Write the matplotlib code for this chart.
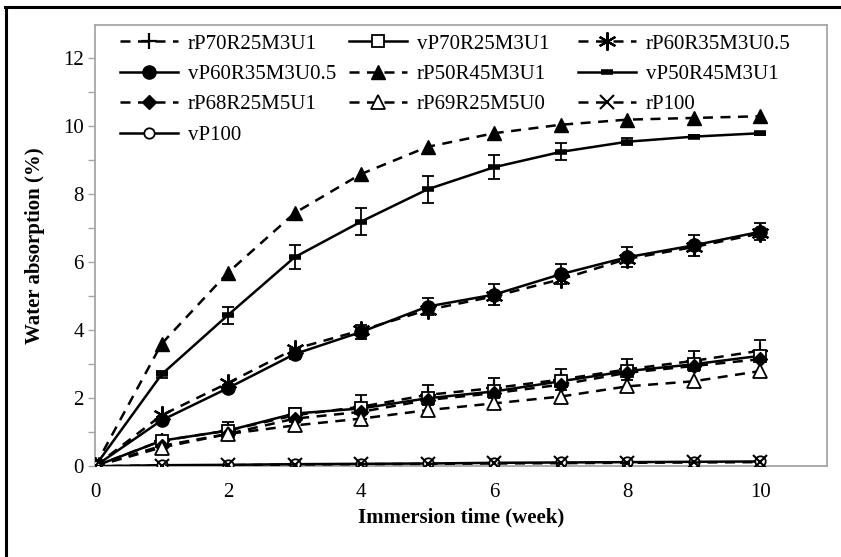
import matplotlib.pyplot as plt
from matplotlib.lines import Line2D
import numpy as np

plt.rcParams['font.family'] = ['Liberation Serif', 'DejaVu Serif']

weeks = [0, 1, 2, 3, 4, 5, 6, 7, 8, 9, 10]

rP70R25M3U1 = [0, 0.75, 1.05, 1.5, 1.75, 2.1, 2.3, 2.55, 2.85, 3.1, 3.4]
vP70R25M3U1 = [0, 0.75, 1.05, 1.55, 1.7, 2.0, 2.2, 2.5, 2.8, 3.0, 3.25]
rP60R35M3U05 = [0, 1.5, 2.45, 3.45, 4.0, 4.6, 5.0, 5.5, 6.1, 6.45, 6.85]
vP60R35M3U05 = [0, 1.35, 2.3, 3.3, 3.95, 4.7, 5.05, 5.65, 6.15, 6.5, 6.9]
rP50R45M3U1 = [0, 3.6, 5.7, 7.45, 8.6, 9.4, 9.8, 10.05, 10.2, 10.25, 10.3]
vP50R45M3U1 = [0, 2.7, 4.45, 6.15, 7.2, 8.15, 8.8, 9.25, 9.55, 9.7, 9.8]
rP68R25M5U1 = [0, 0.6, 0.95, 1.4, 1.6, 1.95, 2.15, 2.4, 2.75, 2.95, 3.15]
rP69R25M5U0 = [0, 0.55, 0.95, 1.2, 1.4, 1.65, 1.85, 2.05, 2.35, 2.5, 2.8]
rP100 = [0, 0.02, 0.03, 0.05, 0.06, 0.07, 0.08, 0.09, 0.1, 0.11, 0.12]
vP100 = [0, 0.03, 0.04, 0.06, 0.07, 0.08, 0.1, 0.11, 0.12, 0.13, 0.14]

err_vP50 = [0, 0.1, 0.25, 0.35, 0.4, 0.4, 0.35, 0.25, 0.1, 0.05, 0.05]
err_vP60 = [0, 0.1, 0.1, 0.15, 0.2, 0.25, 0.3, 0.3, 0.3, 0.3, 0.25]
err_rP70 = [0, 0.15, 0.25, 0.2, 0.35, 0.3, 0.3, 0.3, 0.3, 0.3, 0.3]

fig = plt.figure(figsize=(8.41, 5.57), dpi=100)
ax = fig.add_axes([0.113, 0.163, 0.870, 0.793])

lw = 1.8
dash = (0, (4, 3))
grey = '#a6a6a6'

series = [
    ('rP70R25M3U1', rP70R25M3U1, dash, dict(marker='+', ms=12, mew=1.6), err_rP70),
    ('vP70R25M3U1', vP70R25M3U1, '-', dict(marker='s', ms=8, mfc='white', mew=1.3), None),
    ('rP60R35M3U0.5', rP60R35M3U05, dash, dict(marker=(6, 2, 0), ms=13, mew=1.6), None),
    ('vP60R35M3U0.5', vP60R35M3U05, '-', dict(marker='o', ms=9.5), err_vP60),
    ('rP50R45M3U1', rP50R45M3U1, dash, dict(marker='^', ms=9.5), None),
    ('vP50R45M3U1', vP50R45M3U1, '-', dict(marker='_', ms=9, mew=4), err_vP50),
    ('rP68R25M5U1', rP68R25M5U1, dash, dict(marker='D', ms=7.5), None),
    ('rP69R25M5U0', rP69R25M5U0, dash, dict(marker='^', ms=9.5, mfc='white', mew=1.3), None),
    ('rP100', rP100, dash, dict(marker='x', ms=10, mew=1.5), None),
    ('vP100', vP100, '-', dict(marker='o', ms=7.5, mfc='white', mew=1.3), None),
]

handles = []
for name, vals, ls, mk, err in series:
    if err is not None:
        ax.errorbar(weeks, vals, yerr=err, fmt='none', ecolor='black',
                    elinewidth=1.3, capsize=4.5, capthick=1.3, zorder=3)
    z = 5 if name == 'rP100' else 4
    line, = ax.plot(weeks, vals, color='black', ls=ls, lw=lw,
                    mec='black', **mk, zorder=z)
    line.set_label(name)
    handles.append(line)

# the legend has equal column widths and is read row by row,
# so each column is its own legend
col_x = [120, 349, 578]
for c in range(3):
    hs = handles[c::3]
    leg = ax.legend(hs, [h.get_label() for h in hs], loc='upper left',
                    bbox_to_anchor=(col_x[c] / 841, 1 - 34 / 557),
                    bbox_transform=fig.transFigure, frameon=False, fontsize=15,
                    handlelength=2.8, handletextpad=0.45, labelspacing=0.52,
                    borderpad=0, borderaxespad=0)
    if c < 2:
        ax.add_artist(leg)

ax.set_xlim(0, 11)
ax.set_ylim(0, 13)
ax.set_xticks([0, 2, 4, 6, 8, 10])
ax.set_yticks([0, 2, 4, 6, 8, 10, 12])
ax.set_yticks(range(0, 13), minor=True)
ax.tick_params(axis='x', length=0, labelsize=15, pad=12)
ax.tick_params(axis='y', which='both', direction='out', length=5, width=1,
               color=grey, labelsize=15, pad=3)

for sp in ax.spines.values():
    sp.set_color(grey)
    sp.set_linewidth(1.3)

ax.set_xlabel('Immersion time (week)', fontsize=15, fontweight='bold', labelpad=4)
ax.set_ylabel('Water absorption (%)', fontsize=15, fontweight='bold', labelpad=13)

# outer frame (only left and top edges visible in the picture)
fig.add_artist(Line2D([0.007, 0.007], [0, 0.988], color='black', lw=2.2,
                      transform=fig.transFigure))
fig.add_artist(Line2D([0.006, 1.0], [0.987, 0.987], color='black', lw=2.2,
                      transform=fig.transFigure))

fig.savefig('out.png', dpi=100)
